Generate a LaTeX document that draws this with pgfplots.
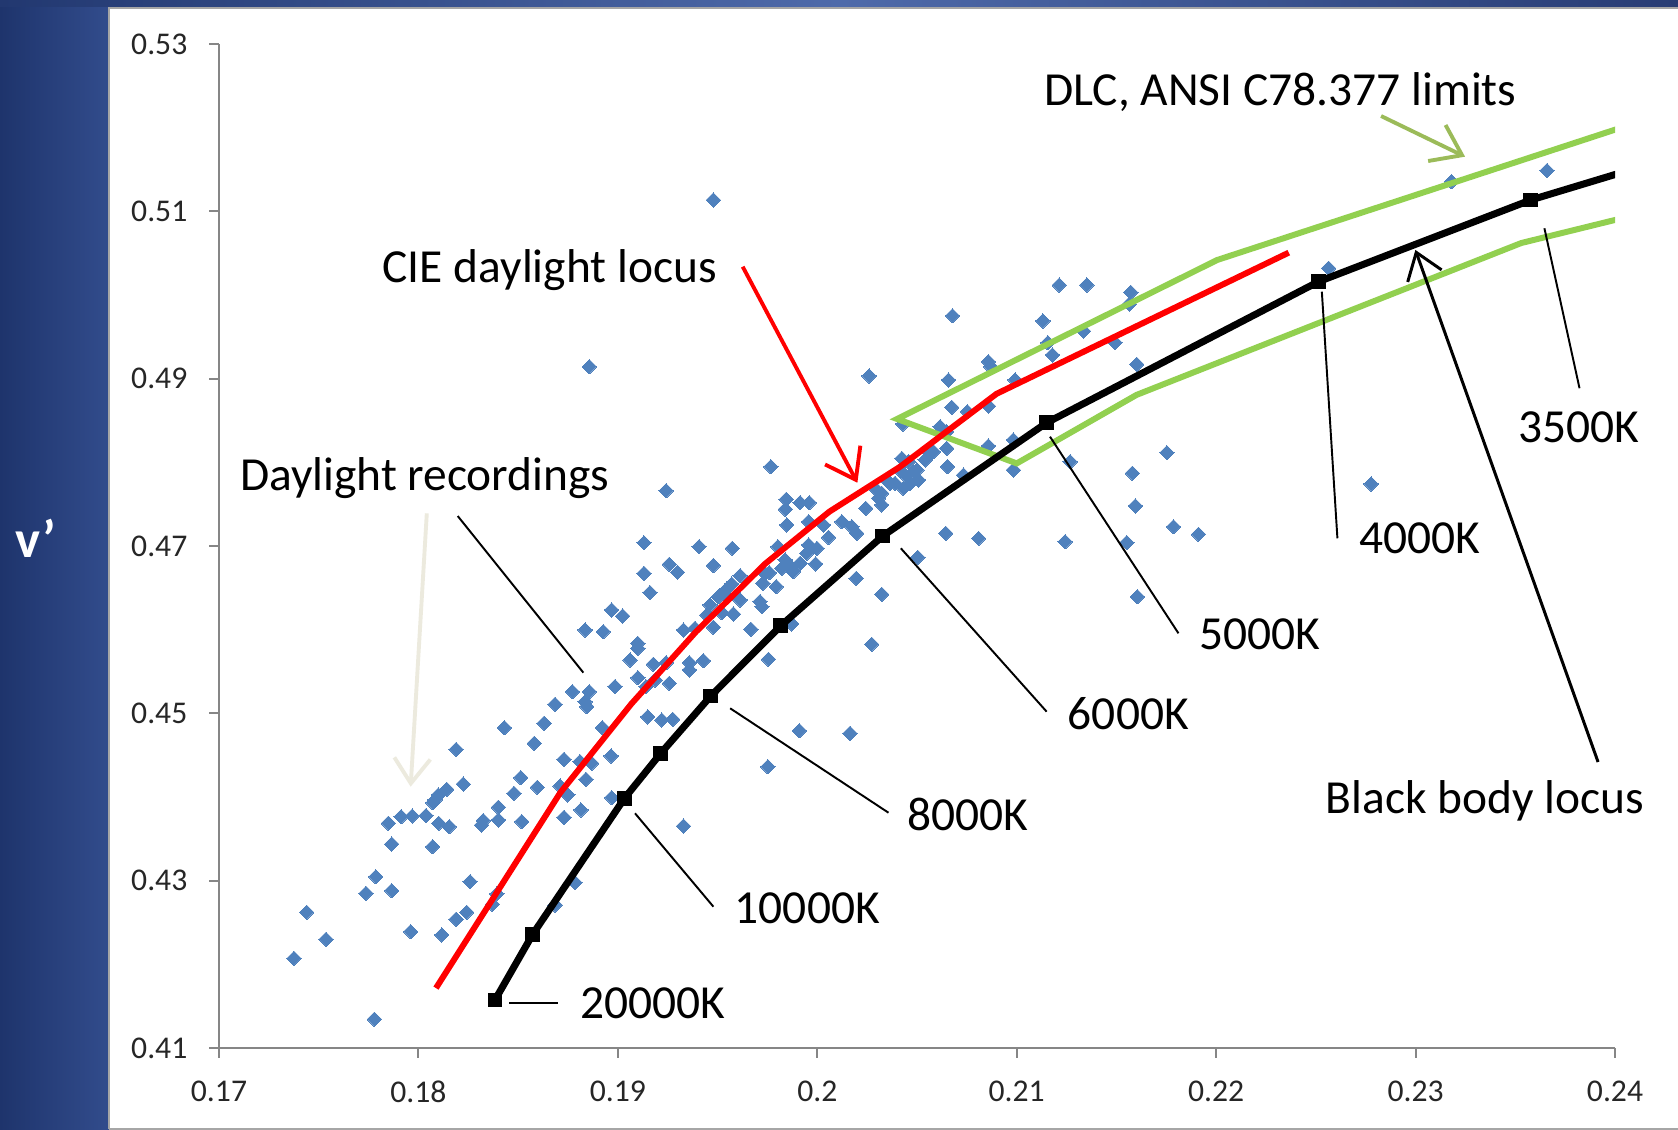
\documentclass[border=0pt]{standalone}
\usepackage{pgfplots}
\pgfplotsset{compat=1.18}
\usepackage{pgfplotstable}
\usepackage{fontspec}
\setmainfont{Carlito}
\usetikzlibrary{arrows.meta}
\definecolor{ptblue}{RGB}{79,129,189}
\definecolor{dlcgreen}{RGB}{146,208,80}
\definecolor{arrgreen}{RGB}{155,187,89}
\definecolor{axgray}{RGB}{134,134,134}
\definecolor{topleft}{RGB}{34,56,112}
\definecolor{topmid}{RGB}{78,106,170}
\definecolor{topright}{RGB}{40,60,116}
\definecolor{panl}{RGB}{30,52,108}
\definecolor{panr}{RGB}{50,76,140}
\definecolor{lightarr}{RGB}{236,234,222}

\pgfplotstableread{
x y
0.18857 0.49143
0.19242 0.47661
0.19131 0.47039
0.19407 0.46991
0.19258 0.46781
0.19299 0.46686
0.19131 0.46673
0.19161 0.46442
0.18969 0.46235
0.19024 0.46163
0.18836 0.45996
0.18927 0.45976
0.19329 0.45996
0.19387 0.46016
0.19100 0.45837
0.19100 0.45777
0.19061 0.45637
0.19178 0.45586
0.19242 0.45605
0.19359 0.45605
0.19359 0.45518
0.19100 0.45426
0.19187 0.45398
0.19141 0.45319
0.19258 0.45359
0.18986 0.45319
0.18772 0.45259
0.18857 0.45259
0.18836 0.45139
0.18844 0.45080
0.18685 0.45108
0.19150 0.44958
0.19220 0.44920
0.19275 0.44928
0.18431 0.44828
0.18630 0.44881
0.18922 0.44828
0.18581 0.44641
0.18189 0.44569
0.19767 0.47948
0.19844 0.47558
0.19914 0.47518
0.19960 0.47518
0.19840 0.47439
0.19847 0.47251
0.19956 0.47290
0.20031 0.47251
0.20123 0.47290
0.20173 0.47230
0.20198 0.47151
0.20056 0.47103
0.19802 0.46991
0.19956 0.47012
0.19998 0.46972
0.19947 0.46913
0.19574 0.46972
0.19479 0.46766
0.19839 0.46833
0.19867 0.46753
0.19880 0.46693
0.19914 0.46793
0.19822 0.46733
0.19992 0.46785
0.19738 0.46673
0.19760 0.46681
0.20195 0.46614
0.19613 0.46645
0.19727 0.46554
0.19794 0.46514
0.19571 0.46546
0.19546 0.46486
0.19529 0.46434
0.19504 0.46394
0.19613 0.46355
0.19713 0.46335
0.19722 0.46275
0.19462 0.46295
0.19446 0.46175
0.19521 0.46203
0.19579 0.46187
0.19479 0.46028
0.19667 0.46004
0.19872 0.46068
0.19429 0.45629
0.19755 0.45646
0.19479 0.51135
0.20678 0.49752
0.21213 0.50119
0.21352 0.50119
0.21131 0.49689
0.21335 0.49569
0.20260 0.49032
0.20658 0.48984
0.20858 0.49203
0.20870 0.49143
0.21156 0.49430
0.21179 0.49283
0.20992 0.48984
0.20674 0.48657
0.20753 0.48605
0.20858 0.48673
0.20429 0.48458
0.20616 0.48426
0.20649 0.48366
0.20858 0.48195
0.20983 0.48267
0.20649 0.48167
0.21268 0.48008
0.20983 0.47908
0.20653 0.47948
0.20733 0.47848
0.20566 0.48107
0.20541 0.48028
0.20582 0.48127
0.20424 0.48047
0.20457 0.48008
0.20415 0.47908
0.20440 0.47848
0.20482 0.47888
0.20507 0.47789
0.20390 0.47749
0.20432 0.47689
0.20365 0.47749
0.20349 0.47789
0.20499 0.47908
0.20465 0.47749
0.20323 0.47630
0.20307 0.47570
0.20323 0.47490
0.20298 0.47669
0.20243 0.47450
0.20644 0.47151
0.20809 0.47091
0.21243 0.47051
0.20504 0.46864
0.20323 0.46422
0.21552 0.47041
0.20273 0.45825
0.21572 0.50032
0.21565 0.49892
0.21493 0.49430
0.21602 0.49171
0.21753 0.48115
0.21580 0.47869
0.21595 0.47478
0.21786 0.47230
0.21911 0.47139
0.21605 0.46394
0.22777 0.47741
0.23180 0.51354
0.23659 0.51486
0.22564 0.50319
0.19752 0.44362
0.19910 0.44792
0.20164 0.44761
0.18225 0.44155
0.18142 0.44092
0.18100 0.44024
0.18083 0.43964
0.18072 0.43932
0.17849 0.43686
0.17913 0.43764
0.17969 0.43773
0.18038 0.43777
0.18102 0.43686
0.18155 0.43645
0.17866 0.43438
0.18071 0.43406
0.17786 0.43047
0.17737 0.42849
0.17866 0.42880
0.17440 0.42622
0.17537 0.42299
0.17376 0.42072
0.17961 0.42390
0.18117 0.42351
0.17779 0.41343
0.18189 0.42538
0.18242 0.42622
0.18259 0.42988
0.18393 0.42841
0.18371 0.42717
0.18317 0.43665
0.18325 0.43717
0.18401 0.43877
0.18401 0.43725
0.18479 0.44044
0.18513 0.44231
0.18518 0.43705
0.18596 0.44116
0.18710 0.44131
0.18730 0.44450
0.18810 0.44422
0.18869 0.44403
0.18749 0.44024
0.18730 0.43757
0.18815 0.43845
0.18840 0.44211
0.18966 0.44490
0.18969 0.43992
0.19329 0.43653
0.18785 0.42976
0.18685 0.42709
}\scatterdata

\pgfplotstableread{
x y
0.18384 0.41574
0.18573 0.42359
0.19033 0.43984
0.19215 0.44522
0.19466 0.45207
0.19817 0.46047
0.20328 0.47119
0.21151 0.48474
0.22513 0.50159
0.23577 0.51135
0.24020 0.51454
}\bbline

\pgfplotstableread{
x y
0.18384 0.41574
0.18573 0.42359
0.19033 0.43984
0.19215 0.44522
0.19466 0.45207
0.19817 0.46047
0.20328 0.47119
0.21151 0.48474
0.22513 0.50159
0.23577 0.51135
}\bbmarks

\pgfplotstableread{
x y
0.18088 0.41716
0.18710 0.44047
0.19068 0.45114
0.19391 0.45973
0.19739 0.46788
0.20061 0.47411
0.20415 0.47947
0.20899 0.48819
0.22364 0.50506
}\cieline

\pgfplotstableread{
x y
0.24021 0.51992
0.22005 0.50418
0.20400 0.48518
0.21000 0.47987
0.21601 0.48806
0.23530 0.50621
0.24011 0.50903
}\dlcline

\begin{document}
\begin{tikzpicture}
\useasboundingbox (-21.9mm,-8.2mm) rectangle (145.9mm,104.8mm);
\shade[left color=topleft, right color=topright, middle color=topmid] (-21.9mm,-8.2mm) rectangle (145.9mm,104.8mm);
\shade[left color=panl, right color=panr] (-21.9mm,-8.2mm) rectangle (-11.0mm,104.0mm);
\fill[white] (-11.0mm,-8.2mm) rectangle (145.9mm,104.0mm);
\draw[gray!70, line width=0.2mm] (-11.0mm,-8.1mm) -- (-11.0mm,104.0mm) -- (145.9mm,104.0mm);
\draw[gray!70, line width=0.2mm] (-11.0mm,-8.1mm) -- (145.9mm,-8.1mm);
\node[anchor=base west, inner sep=0pt, text=white, font=\fontsize{15}{18}\selectfont\bfseries] at (-20.4mm,49.0mm) {v’};
\begin{axis}[
  at={(0,0)}, anchor=south west,
  scale only axis, width=139.6mm, height=100.4mm,
  xmin=0.17, xmax=0.24, ymin=0.41, ymax=0.53,
  enlargelimits=false,
  clip mode=individual,
  axis lines=left,
  axis line style={-, axgray, line width=0.55pt},
  tick align=outside,
  major tick length=1mm,
  tick style={axgray, line width=0.55pt},
  xtick={0.17,0.18,0.19,0.2,0.21,0.22,0.23,0.24},
  xticklabels={0.17,0.18,0.19,0.2,0.21,0.22,0.23,0.24},
  ytick={0.41,0.43,0.45,0.47,0.49,0.51,0.53},
  yticklabels={0.41,0.43,0.45,0.47,0.49,0.51,0.53},
  /pgf/number format/assume math mode=true,
  xticklabel style={font=\fontsize{9}{10}\selectfont, text=black!85, inner sep=0pt, anchor=north},
  yticklabel style={font=\fontsize{9}{10}\selectfont, text=black!85, inner sep=0pt, anchor=east},
  xticklabel shift=2.2mm,
  yticklabel shift=2.1mm,
]
% data
\addplot[only marks, mark=square*, mark size=1.45pt, mark options={rotate=45, fill=ptblue, draw=ptblue, line width=0pt}] table {\scatterdata};
\addplot[dlcgreen, line width=1.7pt, no marks] table {\dlcline};
\addplot[red, line width=1.7pt, no marks] table {\cieline};
\addplot[black, line width=2.0pt, no marks] table {\bbline};
\addplot[only marks, mark=square*, mark size=1.9pt, mark options={fill=black, draw=black}] table {\bbmarks};

% annotations
\draw[black, line width=0.55pt] (0.18197,0.47358) -- (0.18827,0.45486);
\draw[lightarr, line width=1.1pt, -{Straight Barb[length=2.5mm,width=3.6mm]}] (0.18042,0.47390) -- (0.17961,0.44123);
\draw[red, line width=1.1pt, -{Straight Barb[length=2.8mm,width=4mm]}] (0.19626,0.50338) -- (0.20201,0.47756);
\draw[arrgreen, line width=1.1pt, -{Straight Barb[length=2.8mm,width=4mm]}] (0.22827,0.52139) -- (0.23248,0.51653);
\draw[black, line width=0.85pt, -{Straight Barb[length=2.5mm,width=3.6mm]}] (0.23915,0.44418) -- (0.22999,0.50538);

\draw[black, line width=0.55pt] (0.18456,0.41541) -- (0.18702,0.41541);
\draw[black, line width=0.55pt] (0.19086,0.43805) -- (0.19479,0.42689);
\draw[black, line width=0.55pt] (0.19563,0.45060) -- (0.20357,0.43812);
\draw[black, line width=0.55pt] (0.20419,0.46972) -- (0.21150,0.45020);
\draw[black, line width=0.55pt] (0.21167,0.48306) -- (0.21811,0.45956);
\draw[black, line width=0.55pt] (0.22530,0.50039) -- (0.22608,0.47092);
\draw[black, line width=0.55pt] (0.23646,0.50797) -- (0.23822,0.48885);

\tikzset{lbl/.style={anchor=base west, inner sep=0pt, font=\fontsize{13.5}{16}\selectfont}}
\node[lbl] at (0.17102,0.47669) {Daylight recordings};
\node[lbl] at (0.17817,0.50149) {CIE daylight locus};
\node[lbl] at (0.21135,0.52259) {DLC, ANSI C78.377 limits};
\node[lbl] at (0.18810,0.41355) {20000K};
\node[lbl] at (0.19583,0.42487) {10000K};
\node[lbl] at (0.20448,0.43600) {8000K};
\node[lbl] at (0.21253,0.44802) {6000K};
\node[lbl] at (0.21911,0.45757) {5000K};
\node[lbl] at (0.22714,0.46912) {4000K};
\node[lbl] at (0.23512,0.48231) {3500K};
\node[lbl] at (0.22547,0.43804) {Black body locus};
\end{axis}
\end{tikzpicture}
\end{document}
